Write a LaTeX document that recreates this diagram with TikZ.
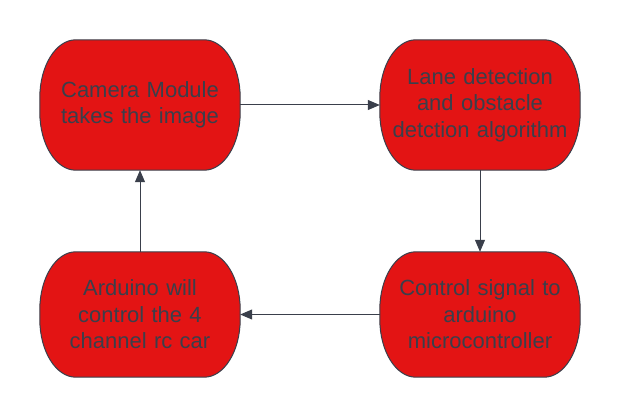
\documentclass[tikz,border=0pt]{standalone}
\usepackage{fontspec}
\setmainfont{Liberation Sans}
\usepackage{tikz}
\usetikzlibrary{arrows.meta}
\definecolor{boxred}{HTML}{E31414}
\definecolor{ink}{HTML}{3A3F4B}

\begin{document}
\begin{tikzpicture}[x=1pt,y=1pt]
    \tikzstyle{step box}=[minimum width=200pt,text width=190pt,align=center,text=ink,font=\fontsize{22}{26.5}\selectfont]
    \tikzstyle{blob}=[fill=boxred,draw=ink,line width=1pt]
    \tikzstyle{fwd}=[draw=ink, line width=1pt, -{Triangle[length=12pt,width=10pt]}]

    \def\rx{36}
    \def\ry{58}
    % rounded capsule drawn round a node
    \def\capsule#1{\path[blob] ([xshift=\rx]#1.north west) -- ([xshift=-\rx]#1.north east)
        arc[start angle=90,end angle=0,x radius=\rx,y radius=\ry] -- ([yshift=\ry]#1.south east)
        arc[start angle=0,end angle=-90,x radius=\rx,y radius=\ry] -- ([xshift=\rx]#1.south west)
        arc[start angle=270,end angle=180,x radius=\rx,y radius=\ry] -- ([yshift=-\ry]#1.north west)
        arc[start angle=180,end angle=90,x radius=\rx,y radius=\ry] -- cycle;}

    \useasboundingbox (0,0) rectangle (620,-417);

    \node[step box,minimum height=130pt] (cam) at (140,-105) {};
    \node[step box,minimum height=130pt] (lane) at (480,-105) {};
    \node[step box,minimum height=125pt] (sig) at (480,-314.5) {};
    \node[step box,minimum height=125pt] (ard) at (140,-314.5) {};

    \capsule{cam}
    \capsule{lane}
    \capsule{sig}
    \capsule{ard}

    \node[step box] at (cam) {Camera Module\\takes the image};
    \node[step box] at (lane) {Lane detection\\and obstacle\\detction algorithm};
    \node[step box] at (sig) {Control signal to\\arduino\\microcontroller};
    \node[step box] at (ard) {Arduino will\\control the 4\\channel rc car};

    \draw[fwd] (cam) -- (lane);
    \draw[fwd] (lane) -- (sig);
    \draw[fwd] (sig) -- (ard);
    \draw[fwd] (ard) -- (cam);
\end{tikzpicture}
\end{document}
